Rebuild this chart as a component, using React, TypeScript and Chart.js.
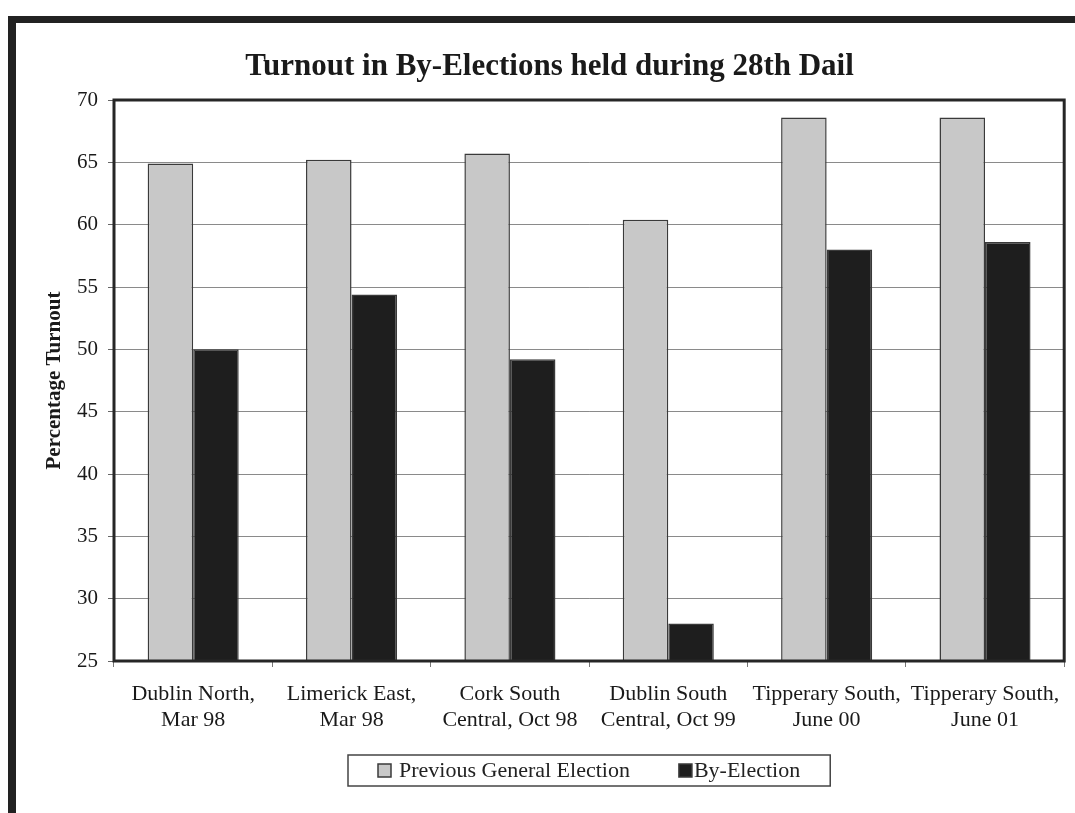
import React, { useEffect, useRef } from "react";
import { Chart, registerables } from "chart.js";

Chart.register(...registerables);

const chartTitle = "Turnout in By-Elections held during 28th Dail";
const yAxisTitle = "Percentage Turnout";
const categories: string[][] = [
  ["Dublin North,", "Mar 98"],
  ["Limerick East,", "Mar 98"],
  ["Cork South", "Central, Oct 98"],
  ["Dublin South", "Central, Oct 99"],
  ["Tipperary South,", "June 00"],
  ["Tipperary South,", "June 01"],
];
const seriesNames = ["Previous General Election", "By-Election"];
const previousGeneral = [64.9, 65.2, 65.7, 60.4, 68.6, 68.6];
const byElection = [50.0, 54.4, 49.2, 28.0, 58.0, 58.6];
const yMin = 25;
const yMax = 70;
const yStep = 5;

const SERIF = "'Liberation Serif', 'Times New Roman', serif";
const LIGHT = "#c8c8c8";
const DARK = "#1e1e1e";
const EDGE = "#3a3a3a";

const framePlugin = {
  id: "frame",
  beforeDraw(chart: any) {
    const ctx = chart.ctx;
    ctx.save();
    ctx.fillStyle = "#ffffff";
    ctx.fillRect(0, 0, chart.width, chart.height);
    ctx.fillStyle = "#222222";
    ctx.fillRect(8, 16, 8, chart.height - 16);
    ctx.fillRect(8, 16, chart.width - 8, 7);
    ctx.restore();
  },
  afterDatasetsDraw(chart: any) {
    const { ctx, chartArea } = chart;
    ctx.save();
    ctx.strokeStyle = "#262626";
    ctx.lineWidth = 3;
    ctx.strokeRect(
      chartArea.left,
      chartArea.top,
      chartArea.right - chartArea.left,
      chartArea.bottom - chartArea.top
    );
    ctx.restore();
  },
  afterDraw(chart: any) {
    const { ctx, chartArea } = chart;
    const datasets = chart.data.datasets;
    ctx.save();
    ctx.font = `22px ${SERIF}`;
    const sq = 13;
    const gapAfterSq = [8, 2];
    const between = 49;
    const padX = 30;
    const widths = datasets.map((d: any) => ctx.measureText(d.label).width);
    let total = padX * 2 + between * (datasets.length - 1);
    datasets.forEach((_: any, i: number) => {
      total += sq + gapAfterSq[i] + widths[i];
    });
    const cx = (chartArea.left + chartArea.right) / 2;
    const boxLeft = Math.round(cx - total / 2);
    const boxTop = 755;
    const boxH = 31;
    ctx.strokeStyle = "#444";
    ctx.lineWidth = 1.5;
    ctx.strokeRect(boxLeft, boxTop, total, boxH);
    let x = boxLeft + padX;
    const midY = boxTop + boxH / 2;
    datasets.forEach((d: any, i: number) => {
      ctx.fillStyle = d.backgroundColor;
      ctx.fillRect(x, midY - sq / 2, sq, sq);
      ctx.strokeStyle = EDGE;
      ctx.lineWidth = 1.5;
      ctx.strokeRect(x, midY - sq / 2, sq, sq);
      x += sq + gapAfterSq[i];
      ctx.fillStyle = "#222";
      ctx.textBaseline = "middle";
      ctx.textAlign = "left";
      ctx.fillText(d.label, x, midY + 1);
      x += widths[i] + between;
    });
    ctx.restore();
  },
};

export default function App() {
  const canvasRef = useRef<HTMLCanvasElement | null>(null);

  useEffect(() => {
    if (!canvasRef.current) return;
    const chart = new Chart(canvasRef.current, {
      type: "bar",
      data: {
        labels: categories,
        datasets: [
          {
            label: seriesNames[0],
            data: previousGeneral,
            backgroundColor: LIGHT,
            borderColor: EDGE,
            borderWidth: 1.5,
            categoryPercentage: 0.575,
            barPercentage: 1,
          },
          {
            label: seriesNames[1],
            data: byElection,
            backgroundColor: DARK,
            borderColor: EDGE,
            borderWidth: 1.5,
            categoryPercentage: 0.575,
            barPercentage: 1,
          },
        ],
      },
      options: {
        responsive: false,
        animation: false,
        devicePixelRatio: 1,
        layout: { padding: { left: 34, right: 10, top: 0, bottom: 0 } },
        plugins: {
          legend: { display: false },
          tooltip: { enabled: false },
          title: {
            display: true,
            text: chartTitle,
            color: "#1a1a1a",
            font: { family: SERIF, size: 31, weight: "bold", lineHeight: 1.2 },
            padding: { top: 48.4, bottom: 14.4 },
          },
        },
        scales: {
          x: {
            afterFit: (scale: any) => {
              scale.height = 152;
            },
            border: { display: false },
            grid: {
              display: true,
              offset: true,
              drawOnChartArea: false,
              drawTicks: true,
              tickLength: 6,
              color: "#777",
            },
            ticks: {
              color: "#1a1a1a",
              font: { family: SERIF, size: 22, lineHeight: 1.15 },
              padding: 15,
              maxRotation: 0,
              autoSkip: false,
            },
          },
          y: {
            min: yMin,
            max: yMax,
            afterFit: (scale: any) => {
              scale.width = 80;
            },
            border: { display: false },
            grid: {
              color: "#8a8a8a",
              lineWidth: 1,
              drawTicks: true,
              tickLength: 6,
              tickColor: "#666",
            },
            ticks: {
              stepSize: yStep,
              color: "#1a1a1a",
              font: { family: SERIF, size: 21 },
              padding: 10,
            },
            title: {
              display: true,
              text: yAxisTitle,
              color: "#1a1a1a",
              font: { family: SERIF, size: 21, weight: "bold", lineHeight: 1.2 },
              padding: { top: 8, bottom: 0 },
            },
          },
        },
      },
      plugins: [framePlugin],
    });
    return () => chart.destroy();
  }, []);

  return (
    <div style={{ position: "fixed", left: 0, top: 0, width: 1075, height: 813, background: "#fff" }}>
      <canvas ref={canvasRef} width={1075} height={813} style={{ width: 1075, height: 813, display: "block" }} />
    </div>
  );
}
